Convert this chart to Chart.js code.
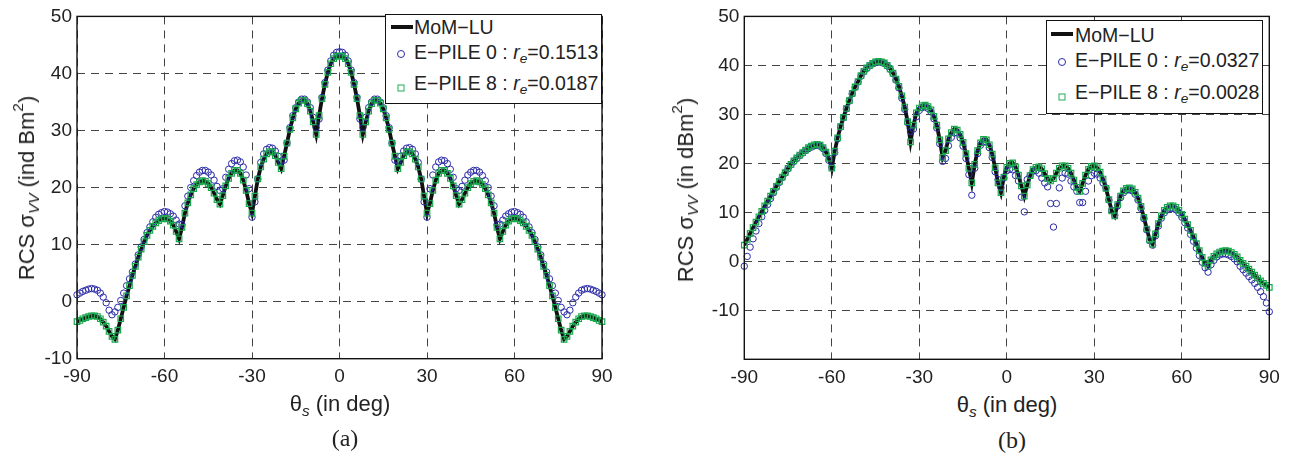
<!DOCTYPE html>
<html>
<head>
<meta charset="utf-8">
<script src="https://cdn.jsdelivr.net/npm/chart.js@4/dist/chart.umd.min.js"></script>
<style>
    body { margin: 0; background: #fff; }
    #wrap { position: relative; width: 1299px; height: 458px; overflow: hidden; }
    canvas { position: absolute; top: 0; }
    .lbl {
        position: absolute;
        font-family: 'Liberation Sans', Arial, sans-serif;
        color: #222;
        white-space: nowrap;
        line-height: 1;
        transform: translate(-50%, -50%);
    }
    .ytitle { transform: translate(-50%, -50%) rotate(-90deg); }
    .cap { font-family: 'Liberation Serif', 'Times New Roman', serif; font-size: 24px; }
    sub, sup { font-size: 70%; line-height: 0; }
    sub { vertical-align: -0.3em; }
    sup { vertical-align: 0.7em; }
    .legend {
        position: absolute;
        border: 1px solid #111;
        background: #fff;
        box-sizing: border-box;
        font-family: 'Liberation Sans', Arial, sans-serif;
        font-size: 19.5px;
        color: #222;
    }
    .legend .row { position: absolute; white-space: nowrap; line-height: 1; transform: translateY(-50%); }
    .legend .ln { position: absolute; height: 4px; background: #111; transform: translateY(-50%); }
    .legend .dot {
        position: absolute; width: 6px; height: 6px; border: 1px solid #2b2ba8;
        border-radius: 50%; transform: translate(-50%, -50%);
    }
    .legend .sq {
        position: absolute; width: 5px; height: 5px; border: 1px solid #1fae55;
        transform: translate(-50%, -50%);
    }
</style>
</head>
<body>
<div id="wrap">
    <canvas id="chartA" width="640" height="392" style="left:0px"></canvas>
    <canvas id="chartB" width="632" height="392" style="left:667px"></canvas>

    <div class="lbl ytitle" style="left:27px; top:188px; font-size:22px">RCS σ<sub><i>VV</i></sub> (ind Bm<sup>2</sup>)</div>
    <div class="lbl ytitle" style="left:686px; top:190px; font-size:22px">RCS σ<sub><i>VV</i></sub> (in dBm<sup>2</sup>)</div>
    <div class="lbl" style="left:340px; top:404px; font-size:22px">θ<sub><i>s</i></sub> (in deg)</div>
    <div class="lbl" style="left:1007px; top:405px; font-size:22px">θ<sub><i>s</i></sub> (in deg)</div>
    <div class="lbl cap" style="left:345px; top:438px">(a)</div>
    <div class="lbl cap" style="left:1012px; top:440px">(b)</div>

    <div class="legend" style="left:385px; top:14px; width:217px; height:90px">
        <div class="ln" style="left:5px; width:22px; top:12px"></div>
        <div class="row" style="left:28px; top:13px">MoM−LU</div>
        <div class="dot" style="left:15px; top:39px"></div>
        <div class="row" style="left:28px; top:38px">E−PILE 0 : <i>r</i><sub><i>e</i></sub>=0.1513</div>
        <div class="sq" style="left:15px; top:73px"></div>
        <div class="row" style="left:28px; top:69px">E−PILE 8 : <i>r</i><sub><i>e</i></sub>=0.0187</div>
    </div>
    <div class="legend" style="left:1046px; top:20px; width:217px; height:94px">
        <div class="ln" style="left:4px; width:22px; top:13px"></div>
        <div class="row" style="left:28px; top:15px">MoM−LU</div>
        <div class="dot" style="left:15px; top:41px"></div>
        <div class="row" style="left:28px; top:40px">E−PILE 0 : <i>r</i><sub><i>e</i></sub>=0.0327</div>
        <div class="sq" style="left:15px; top:76px"></div>
        <div class="row" style="left:28px; top:72px">E−PILE 8 : <i>r</i><sub><i>e</i></sub>=0.0028</div>
    </div>
</div>
<script>
// Vinklar -90..90 i steg om 1 grad
const thetaDeg = Array.from({ length: 181 }, (_, i) => i - 90)
const xTicks = [-90, -60, -30, 0, 30, 60, 90]

// (a) MoM-LU (E-PILE 8 ligger på samma kurva)
const momA = [
    -3.5, -3.3, -3.0, -2.8, -2.6, -2.5, -2.5, -2.6, -3.0, -3.6,
    -4.3, -5.2, -6.1, -6.6, -5.0, -3.0, -1.0, 1.0, 2.8, 4.6,
    6.2, 7.8, 9.2, 10.5, 11.6, 12.5, 13.2, 13.8, 14.2, 14.5,
    14.6, 14.5, 14.1, 13.4, 12.3, 11.0, 13.0, 15.5, 17.3, 18.7,
    19.8, 20.5, 21.0, 21.2, 21.1, 20.7, 20.0, 19.0, 17.9, 17.1,
    18.6, 20.3, 21.6, 22.5, 23.0, 23.0, 22.5, 21.3, 19.5, 17.2,
    15.5, 18.5, 21.5, 23.6, 25.0, 25.9, 26.3, 26.2, 25.6, 24.4,
    23.3, 25.5, 27.8, 30.2, 32.2, 33.8, 34.8, 35.3, 35.3, 34.7,
    33.4, 31.5, 29.3, 32.6, 35.6, 38.1, 40.2, 41.7, 42.6, 43.0,
    43.1,
    43.0, 42.6, 41.7, 40.2, 38.1, 35.6, 32.6, 29.3, 31.5, 33.4,
    34.7, 35.3, 35.3, 34.8, 33.8, 32.2, 30.2, 27.8, 25.5, 23.3,
    24.4, 25.6, 26.2, 26.3, 25.9, 25.0, 23.6, 21.5, 18.5, 15.5,
    17.2, 19.5, 21.3, 22.5, 23.0, 23.0, 22.5, 21.6, 20.3, 18.6,
    17.1, 17.9, 19.0, 20.0, 20.7, 21.1, 21.2, 21.0, 20.5, 19.8,
    18.7, 17.3, 15.5, 13.0, 11.0, 12.3, 13.4, 14.1, 14.5, 14.6,
    14.5, 14.2, 13.8, 13.2, 12.5, 11.6, 10.5, 9.2, 7.8, 6.2,
    4.6, 2.8, 1.0, -1.0, -3.0, -5.0, -6.6, -6.1, -5.2, -4.3,
    -3.6, -3.0, -2.6, -2.5, -2.5, -2.6, -2.8, -3.0, -3.3, -3.5
]
const epile8A = momA

// (a) E-PILE 0
const epile0A = [
    1.2, 1.5, 1.8, 2.0, 2.2, 2.3, 2.2, 2.0, 1.5, 0.8,
    -0.2, -1.5, -2.3, -1.8, -1.0, 0.2, 1.5, 2.8, 4.0, 5.2,
    6.6, 8.2, 9.6, 10.9, 12.1, 13.1, 14.0, 14.8, 15.3, 15.6,
    15.8, 15.7, 15.4, 15.0, 14.3, 13.6, 13.5, 16.8, 18.5, 20.0,
    21.2, 22.1, 22.7, 23.0, 23.0, 22.7, 22.2, 21.3, 20.2, 19.5,
    19.8, 21.8, 23.2, 24.2, 24.7, 24.8, 24.5, 23.6, 22.2, 19.8,
    14.8, 17.5, 21.5, 24.4, 25.9, 26.7, 27.0, 26.9, 26.4, 25.5,
    24.6, 24.8, 27.8, 30.5, 32.6, 34.0, 35.0, 35.5, 35.5, 35.0,
    34.0, 32.3, 30.5, 32.0, 35.8, 38.4, 40.6, 42.2, 43.2, 43.7,
    43.8,
    43.7, 43.2, 42.2, 40.6, 38.4, 35.8, 32.0, 30.5, 32.3, 34.0,
    35.0, 35.5, 35.5, 35.0, 34.0, 32.6, 30.5, 27.8, 24.8, 24.6,
    25.5, 26.4, 26.9, 27.0, 26.7, 25.9, 24.4, 21.5, 17.5, 14.8,
    19.8, 22.2, 23.6, 24.5, 24.8, 24.7, 24.2, 23.2, 21.8, 19.8,
    19.5, 20.2, 21.3, 22.2, 22.7, 23.0, 23.0, 22.7, 22.1, 21.2,
    20.0, 18.5, 16.8, 13.5, 13.6, 14.3, 15.0, 15.4, 15.7, 15.8,
    15.6, 15.3, 14.8, 14.0, 13.1, 12.1, 10.9, 9.6, 8.2, 6.6,
    5.2, 4.0, 2.8, 1.5, 0.2, -1.0, -1.8, -2.3, -1.5, -0.2,
    0.8, 1.5, 2.0, 2.2, 2.3, 2.2, 2.0, 1.8, 1.5, 1.2
]

// (b) MoM-LU (E-PILE 8 följer samma kurva)
const momB = [
    3.3, 4.5, 5.7, 6.9, 8.0, 9.1, 10.2, 11.3, 12.3, 13.3,
    14.3, 15.3, 16.3, 17.2, 18.1, 19.0, 19.8, 20.5, 21.1, 21.7,
    22.2, 22.7, 23.2, 23.5, 23.8, 23.9, 23.7, 23.2, 22.3, 21.0,
    19.0, 22.5, 25.2, 27.5, 29.4, 31.2, 32.8, 34.3, 35.6, 36.7,
    37.9, 38.8, 39.5, 40.0, 40.4, 40.7, 40.8, 40.7, 40.5, 40.0,
    39.3, 38.4, 37.2, 35.7, 33.8, 31.5, 28.5, 24.4, 27.8, 30.3,
    31.3, 31.8, 31.9, 31.6, 30.9, 29.6, 27.8, 24.8, 21.2, 22.6,
    25.0, 26.3, 27.0, 26.8, 25.9, 24.3, 22.0, 19.0, 16.0, 19.8,
    22.6, 24.2, 24.9, 24.8, 23.8, 21.9, 19.1, 16.0, 14.0, 17.2,
    19.2, 20.0, 20.1, 19.3, 17.6, 15.4, 13.3, 15.6, 17.5, 18.7,
    19.2, 19.3, 18.9, 17.9, 16.9, 16.4, 16.9, 18.0, 19.0, 19.5,
    19.5, 19.0, 18.0, 16.6, 15.1, 14.3, 15.9, 17.6, 18.8, 19.4,
    19.5, 19.1, 18.2, 16.8, 14.9, 12.6, 10.3, 9.3, 11.6, 13.3,
    14.4, 14.9, 15.0, 14.8, 14.1, 12.9, 11.2, 9.0, 6.6, 4.4,
    3.5, 5.6, 7.7, 9.3, 10.4, 11.0, 11.3, 11.3, 11.0, 10.4,
    9.6, 8.6, 7.5, 6.3, 5.0, 3.6, 2.2, 0.8, -0.4, -1.0,
    0.3, 1.0, 1.5, 1.9, 2.1, 2.2, 2.1, 1.8, 1.4, 0.9,
    0.2, -0.4, -1.0, -1.6, -2.2, -2.8, -3.4, -4.0, -4.5, -4.9,
    -5.3
]
const epile8B = momB

// (b) E-PILE 0
const epile0B = [
    -1.0, 1.0, 2.9, 4.6, 6.2, 7.7, 9.1, 10.4, 11.6, 12.8,
    14.0, 15.1, 16.1, 17.1, 18.0, 18.9, 19.7, 20.4, 21.0, 21.6,
    22.1, 22.6, 23.0, 23.3, 23.6, 23.7, 23.5, 23.0, 22.0, 20.6,
    19.2, 22.2, 25.0, 27.4, 29.3, 31.1, 32.7, 34.2, 35.5, 36.6,
    37.8, 38.7, 39.4, 39.9, 40.3, 40.6, 40.7, 40.6, 40.4, 39.9,
    39.2, 38.3, 37.0, 35.4, 33.3, 31.0, 28.3, 26.5, 27.0, 29.5,
    30.8, 31.4, 31.5, 31.2, 30.5, 29.1, 27.2, 24.0, 20.4, 21.0,
    23.6, 25.3, 26.2, 26.2, 25.2, 23.5, 21.0, 17.7, 13.5, 19.0,
    22.0, 23.7, 24.4, 24.3, 23.2, 21.2, 18.3, 16.7, 15.0, 17.0,
    18.5, 18.8, 18.7, 17.5, 16.4, 13.1, 10.1, 16.7, 17.5, 18.4,
    18.5, 18.0, 17.0, 16.0, 15.2, 11.8, 7.0, 11.8, 15.0, 17.0,
    18.0, 17.8, 16.4, 15.2, 14.3, 12.0, 12.0, 14.3, 16.4, 17.5,
    18.0, 17.8, 17.0, 16.0, 15.0, 12.5, 10.4, 9.4, 11.3, 13.0,
    14.0, 14.5, 14.6, 14.4, 13.7, 12.5, 10.8, 8.7, 6.4, 4.2,
    3.3, 5.2, 7.2, 8.8, 9.9, 10.5, 10.8, 10.8, 10.5, 9.9,
    9.0, 7.9, 6.8, 5.5, 4.1, 2.7, 1.2, -0.2, -1.3, -2.2,
    -0.7, 0.2, 0.9, 1.3, 1.5, 1.5, 1.3, 1.0, 0.5, -0.1,
    -1.0, -1.7, -2.4, -3.1, -3.8, -4.5, -5.3, -6.2, -7.2, -8.5,
    -10.3
]

const BLUE = '#2b2ba8'
const GREEN = '#1aa84f'
const FONT = "'Liberation Sans', Arial, sans-serif"

function toPoints(values) {
    return values.map((v, i) => ({ x: thetaDeg[i], y: v }))
}

// Ram runt hela plotytan (som i MATLAB)
const framePlugin = {
    id: 'frame',
    afterDatasetsDraw(chart) {
        const { ctx, chartArea: a } = chart
        ctx.save()
        ctx.setLineDash([])
        ctx.strokeStyle = '#111'
        ctx.lineWidth = 1.4
        ctx.strokeRect(a.left, a.top, a.right - a.left, a.bottom - a.top)
        ctx.restore()
    }
}

function makeChart(id, cfg) {
    return new Chart(document.getElementById(id), {
        type: 'scatter',
        data: {
            datasets: [
                {
                    label: 'MoM−LU',
                    data: toPoints(cfg.mom),
                    showLine: true,
                    borderColor: '#111',
                    borderWidth: 3.8,
                    pointRadius: 0,
                    order: 3
                },
                {
                    label: 'E−PILE 0',
                    data: toPoints(cfg.e0),
                    showLine: false,
                    pointStyle: 'circle',
                    pointRadius: 3.2,
                    pointBorderWidth: 1,
                    pointBorderColor: BLUE,
                    pointBackgroundColor: 'rgba(0,0,0,0)',
                    clip: 8,
                    order: 2
                },
                {
                    label: 'E−PILE 8',
                    data: toPoints(cfg.e8),
                    showLine: false,
                    pointStyle: 'rect',
                    pointRadius: 3.9,
                    pointBorderWidth: 1.2,
                    pointBorderColor: GREEN,
                    pointBackgroundColor: 'rgba(0,0,0,0)',
                    clip: 8,
                    order: 1
                }
            ]
        },
        options: {
            responsive: false,
            animation: false,
            devicePixelRatio: 1,
            layout: { padding: cfg.padding },
            plugins: { legend: { display: false }, tooltip: { enabled: false } },
            scales: {
                x: {
                    type: 'linear',
                    min: -90,
                    max: 90,
                    afterBuildTicks: (axis) => {
                        axis.ticks = xTicks.map((v) => ({ value: v }))
                    },
                    afterFit: (axis) => {
                        axis.height = cfg.xHeight
                    },
                    ticks: {
                        font: { family: FONT, size: 19 },
                        color: '#222',
                        padding: 7,
                        maxRotation: 0,
                        callback: (v) => String(v)
                    },
                    grid: { color: '#444', lineWidth: 1, drawTicks: false, borderDash: [8, 6] },
                    border: { display: false, dash: [8, 6] }
                },
                y: {
                    min: cfg.yMin,
                    max: 50,
                    afterFit: (axis) => {
                        axis.width = cfg.yWidth
                    },
                    ticks: {
                        stepSize: 10,
                        font: { family: FONT, size: 19 },
                        color: '#222',
                        padding: 5,
                        callback: (v) => (v < -10 ? '' : String(v))
                    },
                    grid: { color: '#444', lineWidth: 1, drawTicks: false, borderDash: [8, 6] },
                    border: { display: false, dash: [8, 6] }
                }
            }
        },
        plugins: [framePlugin]
    })
}

makeChart('chartA', {
    mom: momA,
    e0: epile0A,
    e8: epile8A,
    yMin: -10,
    padding: { top: 12.5, right: 38, bottom: 0, left: 0 },
    yWidth: 77,
    xHeight: 33.3
})

makeChart('chartB', {
    mom: momB,
    e0: epile0B,
    e8: epile8B,
    yMin: -20,
    padding: { top: 13.7, right: 29.7, bottom: 0, left: 0 },
    yWidth: 77.3,
    xHeight: 32.7
})
</script>
</body>
</html>
